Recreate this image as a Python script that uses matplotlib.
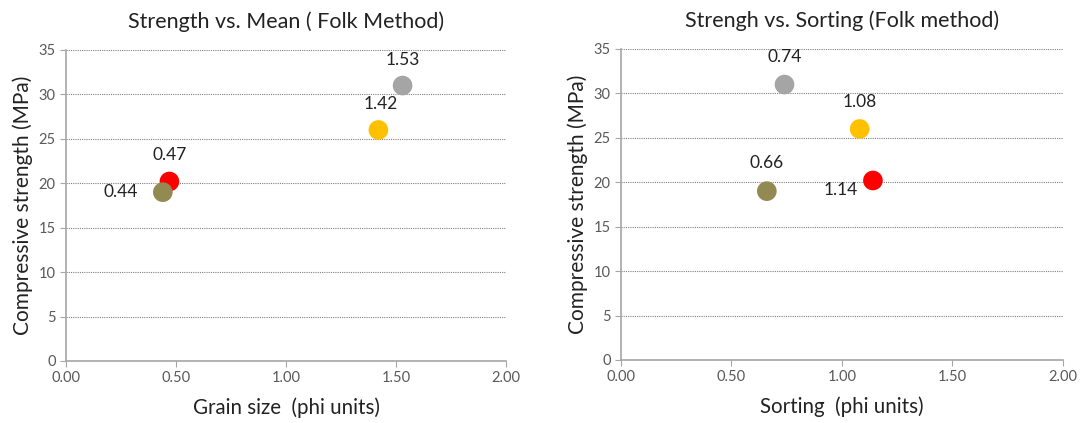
import matplotlib.pyplot as plt

plt.rcParams['font.family'] = ['Lato', 'DejaVu Sans']

# data: each colour is one sample
colors = ['#A5A5A5', '#FFC000', '#FF0000', '#938953']
strength = [31.0, 26.0, 20.2, 19.0]
mean_phi = [1.53, 1.42, 0.47, 0.44]
sorting_phi = [0.74, 1.08, 1.14, 0.66]

yticks = [0, 5, 10, 15, 20, 25, 30, 35]
xticks = [0.0, 0.5, 1.0, 1.5, 2.0]

# label offsets in pixels (dx, dy) for each point
mean_offsets = [(0, 26), (2, 26), (0, 27), (-42, 0)]
sort_offsets = [(0, 28), (0, 27), (-32, -10), (0, 28)]

fig = plt.figure(figsize=(10.86, 4.23), dpi=100)
ax1 = fig.add_axes([0.0608, 0.1466, 0.4051, 0.7352])
ax2 = fig.add_axes([0.5718, 0.1490, 0.4070, 0.7352])

panels = [
    (ax1, mean_phi, mean_offsets, 'Strength vs. Mean ( Folk Method)', 'Grain size  (phi units)'),
    (ax2, sorting_phi, sort_offsets, 'Strengh vs. Sorting (Folk method)', 'Sorting  (phi units)'),
]

for ax, xs, offs, title, xlabel in panels:
    ax.set_xlim(0, 2)
    ax.set_ylim(0, 35)
    ax.set_xticks(xticks)
    ax.set_xticklabels([f'{t:.2f}' for t in xticks])
    ax.set_yticks(yticks)
    ax.yaxis.grid(True, linestyle=(0, (1, 1)), color='#808080', linewidth=0.8)
    ax.set_axisbelow(True)
    for s in ['top', 'right']:
        ax.spines[s].set_visible(False)
    for s in ['left', 'bottom']:
        ax.spines[s].set_color('#A6A6A6')
        ax.spines[s].set_linewidth(1.2)
    ax.tick_params(colors='#A6A6A6', labelcolor='#595959', labelsize=10.5, length=4)
    ax.scatter(xs, strength, s=200, c=colors, zorder=3, linewidths=0)
    for x, y, (dx, dy) in zip(xs, strength, offs):
        ax.annotate(f'{x:.2f}', (x, y), xytext=(dx, dy), textcoords='offset pixels',
                    ha='center', va='center', fontsize=12.5, color='#222222')
    ax.set_title(title, fontsize=15.5, color='#222222', pad=16)
    ax.set_xlabel(xlabel, fontsize=14.8, color='#222222', labelpad=9)
    ax.set_ylabel('Compressive strength (MPa)', fontsize=15, color='#222222', labelpad=4)

fig.savefig('out.png', dpi=100)
